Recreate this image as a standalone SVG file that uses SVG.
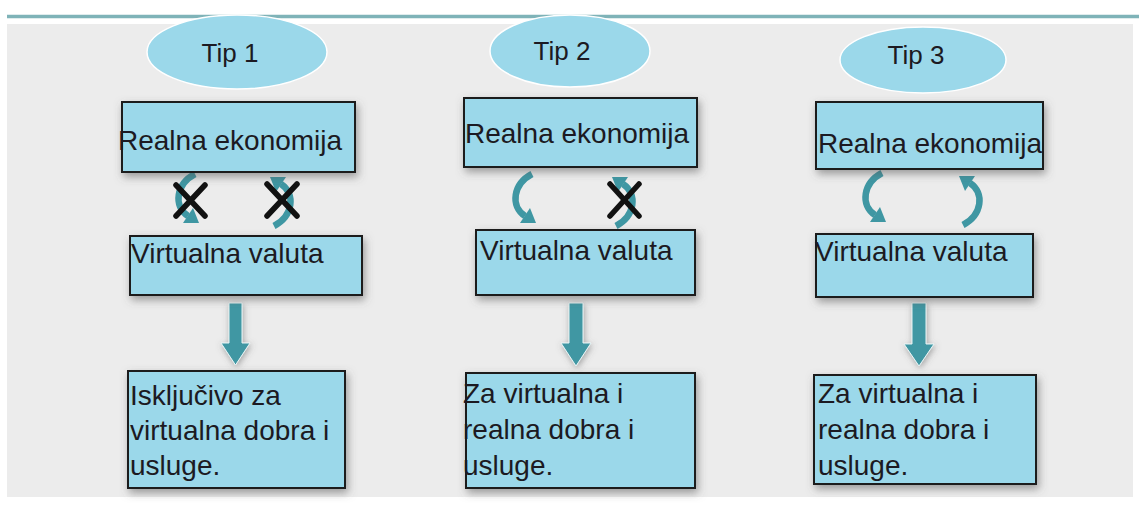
<svg xmlns="http://www.w3.org/2000/svg" width="1139" height="505" viewBox="0 0 1139 505">
<defs>
<style>
.bg{fill:#ececec}
.topline{stroke:#7fb3b8;stroke-width:3.5}
.oval{fill:#9bd8ea;stroke:#ffffff;stroke-width:1.5}
.box{fill:#9bd8ea;stroke:#1a1a1a;stroke-width:2;filter:url(#sh)}
.t{font-family:"Liberation Sans",Arial,sans-serif;font-size:28px;fill:#1c1a22}
.tip{font-family:"Liberation Sans",Arial,sans-serif;font-size:26px;fill:#1c1a22;text-anchor:middle}
.down{fill:#3f97a3;stroke:#e8f4f5;stroke-width:1;filter:url(#sh2)}
.curve{fill:none;stroke:#3f97a3;stroke-width:6.5;stroke-linecap:butt}
.head{fill:#3f97a3}
.x{stroke:#111111;stroke-width:5.5;stroke-linecap:round}
</style>
<filter id="sh" x="-10%" y="-20%" width="125%" height="150%">
<feDropShadow dx="2" dy="4" stdDeviation="4" flood-color="#555555" flood-opacity="0.55"/>
</filter>
<filter id="sh2" x="-50%" y="-20%" width="200%" height="150%">
<feDropShadow dx="1" dy="2" stdDeviation="3" flood-color="#555555" flood-opacity="0.5"/>
</filter>
<g id="carrow">
<path class="curve" d="M 7,-26 C -12,-16 -15,6 0,16"/>
<polygon class="head" points="-5,23 5,8 11,23"/>
</g>
</defs>
<rect class="bg" x="7" y="24" width="1126" height="473"/>
<line class="topline" x1="7" y1="16.5" x2="1139" y2="16.5"/>

<g id="connectors">
<use href="#carrow" transform="translate(188,200)"/>
<use href="#carrow" transform="translate(281,200) rotate(180)"/>
<use href="#carrow" transform="translate(525,200)"/>
<use href="#carrow" transform="translate(623,200) rotate(180)"/>
<use href="#carrow" transform="translate(875,199)"/>
<use href="#carrow" transform="translate(970,199) rotate(180)"/>
<g id="crosses">
<line class="x" x1="176" y1="185" x2="205" y2="216"/>
<line class="x" x1="205" y1="185" x2="176" y2="216"/>
<line class="x" x1="267" y1="184" x2="297" y2="216"/>
<line class="x" x1="297" y1="184" x2="267" y2="216"/>
<line class="x" x1="610" y1="184" x2="639" y2="216"/>
<line class="x" x1="639" y1="184" x2="610" y2="216"/>
</g>
<polygon class="down" points="229,303 242,303 242,343 250,343 235.5,365 221,343 229,343"/>
<polygon class="down" points="569,303 583,303 583,343 591,343 576,366 561,343 569,343"/>
<polygon class="down" points="912,303 926,303 926,344 934,344 919,366 904,344 912,344"/>
</g>

<g id="tip1">
<ellipse class="oval" cx="237" cy="52" rx="90" ry="37"/>
<text class="tip" x="230" y="62">Tip 1</text>
</g>
<g id="tip2">
<ellipse class="oval" cx="570" cy="51" rx="80" ry="36"/>
<text class="tip" x="562" y="60">Tip 2</text>
</g>
<g id="tip3">
<ellipse class="oval" cx="923" cy="60" rx="83" ry="33"/>
<text class="tip" x="916" y="64">Tip 3</text>
</g>

<g id="real1">
<rect class="box" x="122" y="102" width="233" height="70"/>
<text class="t" x="118" y="150">Realna ekonomija</text>
</g>
<g id="virt1">
<rect class="box" x="130" y="236" width="232" height="59"/>
<text class="t" x="131" y="263">Virtualna valuta</text>
</g>
<g id="use1">
<rect class="box" x="128" y="371" width="217" height="117"/>
<text class="t" x="130" y="405">Isključivo za</text>
<text class="t" x="130" y="440">virtualna dobra i</text>
<text class="t" x="130" y="475">usluge.</text>
</g>

<g id="real2">
<rect class="box" x="464" y="98" width="233" height="69"/>
<text class="t" x="465" y="143">Realna ekonomija</text>
</g>
<g id="virt2">
<rect class="box" x="476" y="230" width="219" height="65"/>
<text class="t" x="480" y="260">Virtualna valuta</text>
</g>
<g id="use2">
<rect class="box" x="466" y="373" width="229" height="115"/>
<text class="t" x="463" y="403">Za virtualna i</text>
<text class="t" x="463" y="439">realna dobra i</text>
<text class="t" x="463" y="475">usluge.</text>
</g>

<g id="real3">
<rect class="box" x="816" y="102" width="227" height="67"/>
<text class="t" x="818" y="153">Realna ekonomija</text>
</g>
<g id="virt3">
<rect class="box" x="816" y="234" width="217" height="63"/>
<text class="t" x="815" y="261">Virtualna valuta</text>
</g>
<g id="use3">
<rect class="box" x="814" y="375" width="222" height="109"/>
<text class="t" x="818" y="403">Za virtualna i</text>
<text class="t" x="818" y="439">realna dobra i</text>
<text class="t" x="818" y="475">usluge.</text>
</g>
</svg>
